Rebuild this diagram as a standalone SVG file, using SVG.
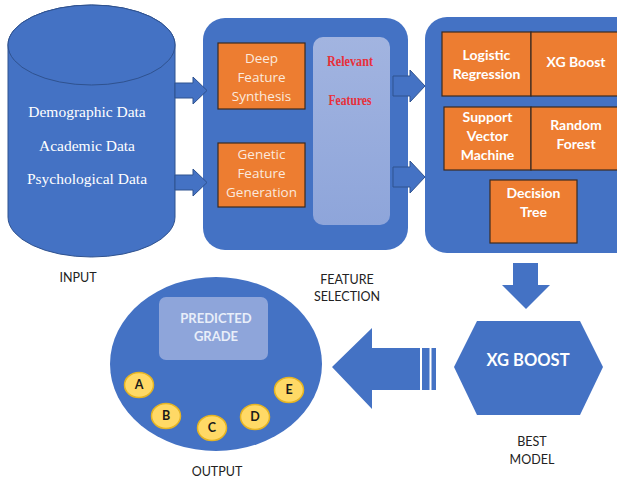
<svg xmlns="http://www.w3.org/2000/svg" width="617" height="482" viewBox="0 0 617 482">
  <defs>
    <style>
      .blue { fill: #4472C4; stroke: #2F528F; stroke-width: 1; }
      .panel { fill: #4472C4; }
      .box { fill: #ED7D31; stroke: #3B2A20; stroke-width: 1.2; }
      .grade { fill: #FFD966; stroke: #E6B422; stroke-width: 1.5; }
      .serif { font-family: "Liberation Serif", "Times New Roman", serif; fill: #FFFFFF; font-size: 15.5px; text-anchor: middle; }
      .btxt { font-family: Lato, "Open Sans", sans-serif; font-weight: bold; fill: #FFFFFF; font-size: 14px; text-anchor: middle; }
      .hex { font-size: 16.5px; }
      .pg { font-size: 13px; fill: #E8EEF9; }
      .wtxt { font-family: "Open Sans", Lato, sans-serif; fill: #FBE9DD; font-size: 13.5px; text-anchor: middle; }
      .cap { font-family: Lato, "Open Sans", sans-serif; fill: #222222; font-size: 12.5px; text-anchor: middle; }
      .red { font-family: "Liberation Serif", "Times New Roman", serif; font-weight: bold; fill: #E8303A; font-size: 15px; text-anchor: middle; }
      .letter { font-family: Lato, "Open Sans", sans-serif; font-weight: bold; fill: #1A1A1A; font-size: 12.5px; text-anchor: middle; }
    </style>
    <linearGradient id="relGrad" x1="0" y1="0" x2="0" y2="1">
      <stop offset="0" stop-color="#A2B4E0"/>
      <stop offset="1" stop-color="#8EA5DA"/>
    </linearGradient>
  </defs>

  <rect width="617" height="482" fill="#FFFFFF"/>

  <!-- data source cylinder -->
  <g id="input">
    <path class="blue" d="M8,45 A83.5,40 0 0 1 175,45 L175,217 A83.5,40 0 0 1 8,217 Z"/>
    <ellipse class="blue" cx="91.5" cy="45" rx="83.5" ry="40"/>
    <text class="serif" x="87" y="117">Demographic Data</text>
    <text class="serif" x="87" y="151">Academic Data</text>
    <text class="serif" x="87" y="184">Psychological Data</text>
    <text class="cap" x="78" y="282">INPUT</text>
  </g>

  <!-- feature engineering stage -->
  <g id="feature-selection">
    <rect class="panel" x="203" y="18" width="205" height="232" rx="22"/>
    <rect class="box" x="218" y="43" width="87" height="66"/>
    <text class="wtxt" x="261.5" y="63">Deep</text>
    <text class="wtxt" x="261.5" y="82">Feature</text>
    <text class="wtxt" x="261.5" y="101">Synthesis</text>
    <rect class="box" x="218" y="143" width="87" height="64"/>
    <text class="wtxt" x="261.5" y="159">Genetic</text>
    <text class="wtxt" x="261.5" y="178">Feature</text>
    <text class="wtxt" x="261.5" y="197">Generation</text>
    <rect x="313" y="37" width="77" height="188" rx="10" fill="url(#relGrad)"/>
    <text class="red" x="350" y="66" textLength="46" lengthAdjust="spacingAndGlyphs">Relevant</text>
    <text class="red" x="350" y="105" textLength="43" lengthAdjust="spacingAndGlyphs">Features</text>
    <text class="cap" x="347" y="284">FEATURE</text>
    <text class="cap" x="347" y="301">SELECTION</text>
  </g>

  <!-- candidate models -->
  <g id="models">
    <rect class="panel" x="425" y="17" width="215" height="236" rx="22"/>
    <rect class="box" x="442" y="32" width="89" height="64"/>
    <text class="btxt" x="486.5" y="60">Logistic</text>
    <text class="btxt" x="486.5" y="79">Regression</text>
    <rect class="box" x="531" y="32" width="90" height="64"/>
    <text class="btxt" x="576" y="67">XG Boost</text>
    <rect class="box" x="444" y="107" width="87" height="63"/>
    <text class="btxt" x="487.5" y="122">Support</text>
    <text class="btxt" x="487.5" y="141">Vector</text>
    <text class="btxt" x="487.5" y="160">Machine</text>
    <rect class="box" x="531" y="107" width="90" height="63"/>
    <text class="btxt" x="576" y="130">Random</text>
    <text class="btxt" x="576" y="149">Forest</text>
    <rect class="box" x="490" y="180" width="87" height="63"/>
    <text class="btxt" x="533.5" y="198">Decision</text>
    <text class="btxt" x="533.5" y="217">Tree</text>
  </g>

  <!-- best model -->
  <g id="best-model">
    <polygon class="panel" points="454,367 477,321 580,321 603,367 580,415 477,415"/>
    <text class="btxt hex" x="528" y="366">XG BOOST</text>
    <text class="cap" x="532" y="446">BEST</text>
    <text class="cap" x="532" y="464">MODEL</text>
  </g>

  <!-- predicted output -->
  <g id="output">
    <ellipse class="panel" cx="216" cy="364" rx="106" ry="87"/>
    <rect x="159" y="297" width="109" height="63" rx="7" fill="#8EA5DA"/>
    <text class="btxt pg" x="216" y="323">PREDICTED</text>
    <text class="btxt pg" x="216" y="341">GRADE</text>
    <ellipse class="grade" cx="139" cy="385" rx="14.5" ry="12.5"/>
    <text class="letter" x="139" y="389">A</text>
    <ellipse class="grade" cx="166" cy="416" rx="14.5" ry="12.5"/>
    <text class="letter" x="166" y="420">B</text>
    <ellipse class="grade" cx="212" cy="428" rx="14.5" ry="12.5"/>
    <text class="letter" x="212" y="432">C</text>
    <ellipse class="grade" cx="255" cy="417" rx="14.5" ry="12.5"/>
    <text class="letter" x="255" y="421">D</text>
    <ellipse class="grade" cx="289" cy="390" rx="14.5" ry="12.5"/>
    <text class="letter" x="289" y="394">E</text>
    <text class="cap" x="217" y="476">OUTPUT</text>
  </g>

  <!-- connectors -->
  <g id="connectors">
    <polygon class="blue" points="175,83 193,83 193,77 207,90.5 193,104 193,98 175,98"/>
    <polygon class="blue" points="175,175 193,175 193,169 207,182.5 193,196 193,190 175,190"/>
    <polygon class="blue" points="393,76 410,76 410,70 425,86 410,102 410,96 393,96"/>
    <polygon class="blue" points="393,167 410,167 410,161 425,177 410,193 410,187 393,187"/>
    <polygon class="panel" points="513,263 538,263 538,285 550,285 526,309 502,285 513,285"/>
    <polygon class="panel" points="332,367 372,328 372,348 420,348 420,390 372,390 372,409"/>
    <rect class="panel" x="422" y="348" width="7.5" height="42"/>
    <rect class="panel" x="431.5" y="348" width="4.5" height="42"/>
  </g>
</svg>
